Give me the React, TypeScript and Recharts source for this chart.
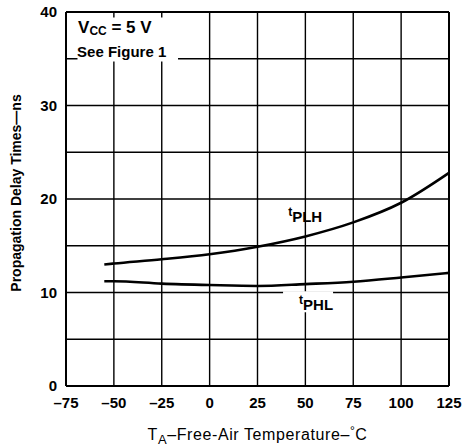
import React from "react"
import {
  CartesianGrid,
  Label,
  Line,
  LineChart,
  ReferenceArea,
  ReferenceDot,
  ReferenceLine,
  XAxis,
  YAxis,
} from "recharts"

// free-air temperature, °C
const temps = [-55, -50, -25, 0, 25, 50, 75, 100, 125]
// propagation delay, ns
const tPLH = [13.0, 13.1, 13.55, 14.1, 14.9, 16.0, 17.5, 19.6, 22.8]
const tPHL = [11.2, 11.2, 10.95, 10.8, 10.7, 10.9, 11.15, 11.6, 12.1]

const xTicks = [-75, -50, -25, 0, 25, 50, 75, 100, 125]
const yTicks = [0, 5, 10, 15, 20, 25, 30, 35, 40]

const data = temps.map((t, i) => ({ t, plh: tPLH[i], phl: tPHL[i] }))

const FONT = "'Liberation Sans', Arial, Helvetica, sans-serif"

const fmtX = (v: number) => (v < 0 ? `\u2013${Math.abs(v)}` : `${v}`)
const fmtY = (v: number) => (v % 10 === 0 ? `${v}` : "")

const XTitle = (props: any) => {
  const { x, y, width } = props.viewBox
  return (
    <text
      x={x + width / 2}
      y={y + 54}
      textAnchor="middle"
      fontFamily={FONT}
      fontSize={16}
      letterSpacing={0.6}
      fill="#000"
    >
      T
      <tspan fontSize={13} dy={4}>A</tspan>
      <tspan dy={-4}>{"\u2013Free-Air Temperature\u2013"}</tspan>
      <tspan fontSize={12} dy={-5}>{"\u00B0"}</tspan>
      <tspan dy={5}>C</tspan>
    </text>
  )
}

const YTitle = (props: any) => {
  const { y, height } = props.viewBox
  const cx = 16
  const cy = y + height / 2 - 6
  return (
    <text
      x={cx}
      y={cy}
      transform={`rotate(-90, ${cx}, ${cy})`}
      textAnchor="middle"
      dominantBaseline="central"
      fontFamily={FONT}
      fontSize={14}
      fontWeight="bold"
      fill="#000"
    >
      {"Propagation Delay Times\u2014ns"}
    </text>
  )
}

const CondLabel = (props: any) => {
  const { x, y } = props.viewBox
  return (
    <g fontFamily={FONT} fontWeight="bold" fill="#000">
      <text x={x} y={y} fontSize={17}>
        V<tspan fontSize={12} dy={2}>CC</tspan>
        <tspan dy={-2}>{" = 5 V"}</tspan>
      </text>
      <text x={x - 1} y={y + 24} fontSize={15}>See Figure 1</text>
    </g>
  )
}

const SeriesLabel = (name: string, sub: string, blank: boolean) => (props: any) => {
  const { x, y } = props.viewBox
  return (
    <g fontFamily={FONT} fontWeight="bold" fill="#000">
      {blank && <rect x={x - 16} y={y - 19} width={50} height={21} fill="#fff" />}
      <text x={x} y={y} fontSize={15}>
        <tspan fontSize={12} dy={-6}>{name}</tspan>
        <tspan dy={6}>{sub}</tspan>
      </text>
    </g>
  )
}

export default function App() {
  return (
    <div style={{ position: "absolute", left: 0, top: 0, background: "#fff" }}>
      <LineChart width={474} height={448} data={data} margin={{ top: 12, right: 25, left: 0, bottom: 0 }}>
        <CartesianGrid stroke="#000" strokeWidth={1.4} />
        <XAxis
          type="number"
          dataKey="t"
          domain={[-75, 125]}
          ticks={xTicks}
          tickFormatter={fmtX}
          interval={0}
          height={62}
          tickSize={0}
          tickLine={false}
          tickMargin={11}
          axisLine={{ stroke: "#000", strokeWidth: 2 }}
          tick={{ fill: "#000", fontSize: 15, fontWeight: "bold", fontFamily: FONT }}
        >
          <Label content={XTitle} />
        </XAxis>
        <YAxis
          type="number"
          domain={[0, 40]}
          ticks={yTicks}
          tickFormatter={fmtY}
          interval={0}
          width={66}
          tickSize={0}
          tickLine={false}
          tickMargin={9}
          axisLine={{ stroke: "#000", strokeWidth: 2 }}
          tick={{ fill: "#000", fontSize: 15, fontWeight: "bold", fontFamily: FONT }}
        >
          <Label content={YTitle} />
        </YAxis>
        <ReferenceLine y={40} stroke="#000" strokeWidth={2} />
        <ReferenceLine x={125} stroke="#000" strokeWidth={2} />
        <ReferenceArea x1={-69} x2={-16.5} y1={34.7} y2={39.4} fill="#fff" fillOpacity={1} stroke="none" />
        <ReferenceDot x={-68.7} y={37.75} r={0} fill="none" stroke="none" label={CondLabel} />
        <Line type="monotone" dataKey="plh" stroke="#000" strokeWidth={2.6} dot={false} isAnimationActive={false} />
        <Line type="monotone" dataKey="phl" stroke="#000" strokeWidth={2.6} dot={false} isAnimationActive={false} />
        <ReferenceDot x={41} y={17.5} r={0} fill="none" stroke="none" label={SeriesLabel("t", "PLH", false)} />
        <ReferenceDot x={46.7} y={8.1} r={0} fill="none" stroke="none" label={SeriesLabel("t", "PHL", true)} />
      </LineChart>
    </div>
  )
}
